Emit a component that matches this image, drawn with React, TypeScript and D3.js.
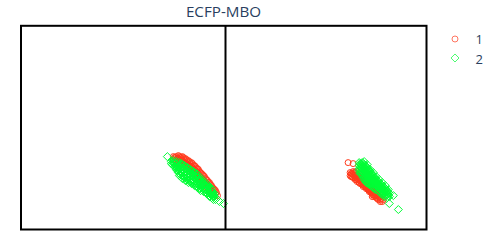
import React from 'react';
import { scaleLinear, symbol, symbolCircle, symbolDiamond2 } from 'd3';

const title = 'ECFP-MBO';
const seriesNames = ['1', '2'];

// values, one [x, y] per marker
const leftRed: number[][] = [
  [152,73],[152,70],[154,72],[155,73],[155,70],[155,67],[157,71],[158,73],[158,70],[158,66],
  [160,72],[161,73],[161,69],[161,65],[163,70],[164,71],[164,67],[164,63],[166,68],[167,69],
  [167,65],[167,61],[169,66],[170,67],[170,63],[170,59],[172,64],[173,64],[173,60],[173,56],
  [175,61],[176,61],[176,57],[176,53],[178,58],[179,57],[179,53],[179,49],[181,55],[182,54],
  [182,50],[182,46],[184,51],[185,50],[185,46],[185,42],[187,47],[188,47],[188,43],[188,39],
  [190,44],[191,42],[191,38],[193,40],[194,39],[194,36],
  [153,72],[156,71],[157,74],[159,72],[160,70],[162,72],[162,68],[163,66],[165,70],[165,66],
  [166,64],[168,68],[168,64],[169,62],[171,66],[171,62],[172,60],[174,63],[174,59],[175,57],
  [177,60],[177,56],[178,54],[180,56],[180,52],[181,50],[183,53],[183,49],[184,47],[186,49],
  [186,45],[187,43],[189,45],[189,41],[190,40],[192,41],[192,37],[195,37],[196,34],
];

const leftGreen: number[][] = [
  [146,73],[150,68],[150,66],[152,69],[153,66],[153,63],[155,68],[156,65],[156,62],[156,59],
  [158,67],[159,64],[159,61],[159,58],[159,55],[161,65],[162,62],[162,59],[162,56],[162,53],
  [164,63],[165,60],[165,57],[165,54],[165,51],[167,61],[168,58],[168,55],[168,52],[168,50],
  [170,59],[171,56],[171,53],[171,50],[171,48],[173,57],[174,54],[174,51],[174,48],[174,46],
  [176,55],[177,52],[177,49],[177,46],[177,44],[179,52],[180,49],[180,46],[180,44],[180,42],
  [182,49],[183,46],[183,43],[183,40],[185,46],[186,43],[186,40],[186,38],[188,42],[189,39],
  [189,36],[191,37],[192,35],[192,33],[195,31],[198,28],[202,26],
  [151,65],[152,67],[154,66],[154,63],[155,60],[157,66],[157,63],[157,60],[157,57],[158,54],
  [160,66],[160,63],[160,60],[160,57],[160,54],[161,51],[163,64],[163,61],[163,58],[163,55],
  [163,52],[164,49],[166,62],[166,59],[166,56],[166,53],[166,50],[167,47],[169,60],[169,57],
  [169,54],[169,51],[169,48],[170,46],[172,58],[172,55],[172,52],[172,49],[172,46],[173,44],
  [175,56],[175,53],[175,50],[175,47],[175,44],[176,42],[178,53],[178,50],[178,47],[178,44],
  [178,41],[179,39],[181,50],[181,47],[181,44],[181,41],[182,38],[184,47],[184,44],[184,41],
  [184,38],[185,36],[187,44],[187,41],[187,38],[187,35],[188,33],[190,41],[190,38],[190,35],
  [190,32],[193,36],[193,33],[194,30],[192,30],
];

const rightRed: number[][] = [
  [122,67],[127,66],[124,57],[124,54],[126,56],[127,58],[127,55],[127,52],[129,56],[130,58],
  [130,54],[130,50],[132,53],[133,55],[133,51],[133,47],[135,50],[136,52],[136,48],[136,45],
  [138,47],[139,49],[139,46],[139,43],[141,44],[142,46],[142,43],[142,40],[144,41],[145,43],
  [145,40],[145,37],[147,38],[148,40],[148,37],[150,35],[151,37],[151,34],[153,32],[154,33],
  [154,30],[157,30],
  [125,56],[125,53],[126,53],[128,57],[128,54],[129,52],[129,50],[131,55],[131,51],[131,48],
  [132,50],[134,52],[134,49],[134,46],[135,47],[137,49],[137,46],[137,43],[138,44],[140,46],
  [140,43],[140,41],[141,41],[143,43],[143,40],[143,38],[144,38],[146,40],[146,37],[146,35],
  [147,35],[149,37],[149,34],[150,32],[152,33],[152,30],[155,31],[156,28],
  [146,33],[148,33],[151,31],[154,28],
];

const rightGreen: number[][] = [
  [133,67],[133,64],[133,61],[133,59],[135,65],[136,67],[136,64],[136,61],[136,58],[136,55],
  [138,65],[139,64],[139,61],[139,58],[139,55],[139,52],[139,49],[141,62],[142,60],[142,57],
  [142,54],[142,51],[142,48],[142,46],[144,58],[145,56],[145,53],[145,50],[145,47],[145,44],
  [147,54],[148,52],[148,49],[148,46],[148,43],[148,41],[150,50],[151,49],[151,46],[151,43],
  [151,40],[153,47],[154,46],[154,43],[154,40],[154,37],[156,44],[157,43],[157,40],[157,37],
  [157,35],[159,41],[160,40],[160,37],[160,34],[163,36],[163,33],[167,34],[163,26],[172,20],
  [134,66],[134,63],[134,60],[134,57],[135,62],[135,59],[135,56],[137,66],[137,63],[137,60],
  [137,57],[137,54],[138,62],[138,59],[138,56],[138,53],[138,50],[140,63],[140,60],[140,57],
  [140,54],[140,51],[140,48],[141,59],[141,56],[141,53],[141,50],[141,47],[143,59],[143,56],
  [143,53],[143,50],[143,47],[143,45],[144,55],[144,52],[144,49],[144,46],[146,55],[146,52],
  [146,49],[146,46],[146,43],[147,51],[147,48],[147,45],[147,42],[149,51],[149,48],[149,45],
  [149,42],[149,40],[150,47],[150,44],[150,41],[152,48],[152,45],[152,42],[152,39],[153,44],
  [153,41],[153,38],[155,45],[155,42],[155,39],[155,36],[156,41],[156,38],[156,35],[158,42],
  [158,39],[158,36],[158,33],[159,38],[159,35],[161,38],[161,35],[161,32],[162,37],[162,34],
  [138,68],[141,65],[144,60],[147,57],[150,53],[153,50],[156,47],[159,44],[162,40],
  [134,56],[137,52],[140,47],
];

const W = 500;
const H = 250;
const red = '#ff3a1c';
const green = '#00fe35';
const ink = '#2a3f5f';

const xLeft = scaleLinear().domain([0, 204]).range([21, 225.5]);
const xRight = scaleLinear().domain([0, 200]).range([225.5, 426.5]);
const yScale = scaleLinear().domain([0, 204]).range([229.5, 25.8]);

const circlePath = symbol().type(symbolCircle).size(28)() as string;
const diamondPath = symbol().type(symbolDiamond2).size(41)() as string;

const Markers = ({ pts, x, d, color }: { pts: number[][]; x: (v: number) => number; d: string; color: string }) => (
  <g fill="none" stroke={color} strokeWidth={1}>
    {pts.map((p, i) => (
      <path key={i} d={d} transform={`translate(${x(p[0])},${yScale(p[1])})`} />
    ))}
  </g>
);

const App = () => {
  return (
    <svg width={W} height={H} style={{ position: 'absolute', left: 0, top: 0, fontFamily: '"Open Sans", sans-serif' }}>
      <rect width={W} height={H} fill="#fff" />
      <Markers pts={leftRed} x={xLeft} d={circlePath} color={red} />
      <Markers pts={leftGreen} x={xLeft} d={diamondPath} color={green} />
      <Markers pts={rightRed} x={xRight} d={circlePath} color={red} />
      <Markers pts={rightGreen} x={xRight} d={diamondPath} color={green} />

      {/* frames */}
      <g fill="none" stroke="#000" strokeWidth={2}>
        <rect x={xLeft(0)} y={yScale(204)} width={xRight(200) - xLeft(0)} height={yScale(0) - yScale(204)} />
        <line x1={xRight(0)} x2={xRight(0)} y1={yScale(204)} y2={yScale(0)} />
      </g>

      <text x={223.5} y={16.5} textAnchor="middle" fontSize={15.2} fill={ink}>{title}</text>

      {/* legend */}
      <g fill="none" strokeWidth={1} opacity={0.7}>
        <path d={circlePath} transform="translate(455,39)" stroke={red} />
        <path d={diamondPath} transform="translate(455,58)" stroke={green} />
      </g>
      <text x={475.5} y={44} fontSize={13} fill={ink}>{seriesNames[0]}</text>
      <text x={475.5} y={63.5} fontSize={13} fill={ink}>{seriesNames[1]}</text>
    </svg>
  );
};

export default App;
